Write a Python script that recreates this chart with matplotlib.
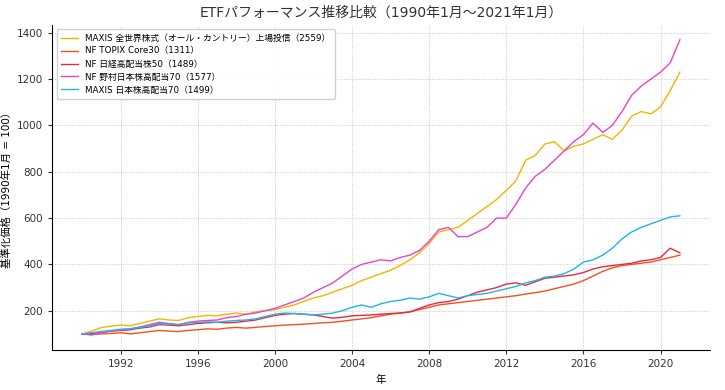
import numpy as np
import pandas as pd
import matplotlib
matplotlib.use("Agg")
import matplotlib.pyplot as plt
import matplotlib.dates as mdates

plt.rcParams['font.family'] = ['DejaVu Sans', 'Noto Sans CJK JP']

# semi-annual points, Jan 1990 .. Jan 2021
dates = pd.date_range('1990-01-01', '2021-01-01', freq='6MS')

maxis_acwi = [100, 112, 128, 133, 138, 135, 145, 155, 165, 160,
              158, 170, 175, 180, 178, 185, 190, 185, 195, 200,
              205, 215, 225, 240, 255, 265, 280, 295, 310, 330,
              345, 360, 375, 395, 420, 450, 490, 540, 550, 560,
              590, 620, 650, 680, 720, 760, 850, 870, 920, 930,
              890, 910, 920, 940, 960, 940, 980, 1040, 1060, 1050,
              1080, 1150, 1230]

nf_core30 = [100, 98, 100, 102, 105, 100, 105, 110, 115, 112,
             110, 115, 118, 122, 120, 125, 128, 125, 128, 132,
             135, 138, 140, 142, 145, 148, 150, 155, 160, 165,
             170, 178, 185, 190, 195, 205, 215, 225, 230, 235,
             240, 245, 250, 255, 260, 265, 272, 278, 285, 295,
             305, 315, 330, 350, 370, 385, 395, 400, 405, 410,
             420, 430, 440]

nf_hd50 = [100, 102, 108, 112, 115, 118, 125, 130, 140, 138,
           135, 140, 145, 148, 150, 148, 150, 155, 160, 170,
           180, 185, 188, 185, 182, 175, 168, 172, 178, 180,
           182, 185, 188, 190, 195, 210, 225, 235, 240, 250,
           265, 280, 290, 300, 315, 320, 310, 325, 340, 345,
           350, 355, 365, 380, 390, 395, 400, 405, 415, 420,
           430, 470, 450]

nf_hd70 = [100, 95, 105, 112, 118, 122, 130, 140, 150, 145,
           140, 150, 155, 158, 160, 170, 175, 185, 190, 200,
           210, 225, 240, 255, 280, 300, 320, 350, 380, 400,
           410, 420, 415, 430, 440, 460, 500, 550, 560, 520,
           520, 540, 560, 600, 600, 660, 730, 780, 810, 850,
           890, 930, 960, 1010, 970, 1000, 1060, 1130, 1170, 1200,
           1230, 1270, 1370]

maxis_hd70 = [100, 105, 110, 115, 120, 122, 128, 135, 145, 142,
              140, 148, 150, 152, 150, 155, 158, 160, 165, 175,
              185, 190, 188, 185, 182, 185, 190, 200, 215, 225,
              215, 230, 240, 245, 255, 250, 260, 275, 265, 255,
              265, 270, 275, 285, 295, 305, 320, 330, 345, 350,
              360, 380, 410, 420, 440, 470, 510, 540, 560, 575,
              590, 605, 610]

labels = [
    'MAXIS 全世界株式（オール・カントリー）上場投信（2559）',
    'NF TOPIX Core30（1311）',
    'NF 日経高配当株50（1489）',
    'NF 野村日本株高配当70（1577）',
    'MAXIS 日本株高配当70（1499）',
]
colors = ['#F4B400', '#F4511E', '#E8283F', '#E645C8', '#1DB7E8']
series = [maxis_acwi, nf_core30, nf_hd50, nf_hd70, maxis_hd70]

fig, ax = plt.subplots(figsize=(7.25, 3.9), dpi=100)
fig.subplots_adjust(left=0.072, right=0.979, bottom=0.103, top=0.936)

for vals, lab, col in zip(series, labels, colors):
    ax.plot(dates, vals, color=col, linewidth=1.0, label=lab)

ax.set_title('ETFパフォーマンス推移比較（1990年1月～2021年1月）', fontsize=10, color='#333333')
ax.set_xlabel('年', fontsize=7.5)
ax.set_ylabel('基準化価格（1990年1月 = 100）', fontsize=7.5)

ax.xaxis.set_major_locator(mdates.YearLocator(4))
ax.xaxis.set_major_formatter(mdates.DateFormatter('%Y'))
ax.tick_params(labelsize=7.5, length=3, colors='#333333')

ax.grid(True, linestyle=':', linewidth=0.6, color='#bbbbbb')
for s in ['top', 'right']:
    ax.spines[s].set_visible(False)

ax.legend(loc='upper left', fontsize=6.3, framealpha=0.9, borderpad=0.5,
          handlelength=2.0, labelspacing=0.45)

fig.savefig('out.png', dpi=100)
